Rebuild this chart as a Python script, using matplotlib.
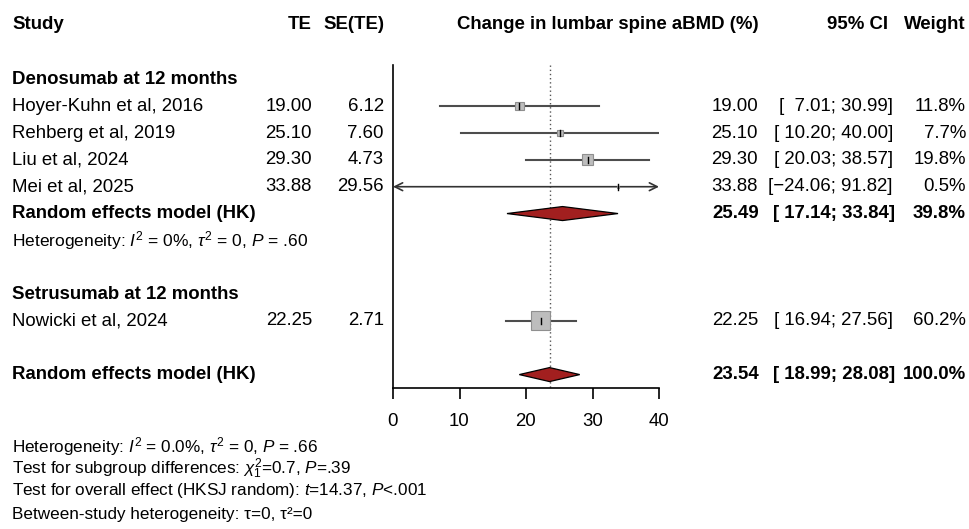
import matplotlib
matplotlib.use("Agg")
import matplotlib.pyplot as plt
from matplotlib.transforms import blended_transform_factory
import numpy as np

plt.rcParams['font.family'] = ['Liberation Sans', 'DejaVu Sans']
plt.rcParams['mathtext.fontset'] = 'custom'
plt.rcParams['mathtext.rm'] = 'Liberation Sans'
plt.rcParams['mathtext.it'] = 'Liberation Sans:italic'
plt.rcParams['mathtext.bf'] = 'Liberation Sans:bold'

# ---- data ----
studies = ["Hoyer-Kuhn et al, 2016", "Rehberg et al, 2019", "Liu et al, 2024",
           "Mei et al, 2025", "Nowicki et al, 2024"]
study_rows = [1, 2, 3, 4, 9]
te = [19.00, 25.10, 29.30, 33.88, 22.25]
se = [6.12, 7.60, 4.73, 29.56, 2.71]
ci_lo = [7.01, 10.20, 20.03, -24.06, 16.94]
ci_hi = [30.99, 40.00, 38.57, 91.82, 27.56]
weights = [11.8, 7.7, 19.8, 0.5, 60.2]

group_labels = ["Denosumab at 12 months", "Setrusumab at 12 months"]
group_rows = [0, 8]

pooled_labels = ["Random effects model (HK)", "Random effects model (HK)"]
pooled_rows = [5, 11]
pooled_est = [25.49, 23.54]
pooled_lo = [17.14, 18.99]
pooled_hi = [33.84, 28.08]
pooled_w = [39.8, 100.0]

xticks = [0, 10, 20, 30, 40]

W, H = 969, 529
fig = plt.figure(figsize=(W / 100, H / 100), dpi=100)

# forest axes: x 0..40 spans px 393..659, rows spaced ~26.85 px
ax_l, ax_r = 393, 659
ax_top, ax_bot = 23, 388
ax = fig.add_axes([ax_l / W, 1 - ax_bot / H, (ax_r - ax_l) / W, (ax_bot - ax_top) / H])
ax.set_xlim(0, 40)
ax.set_ylim(11.5, -2.1)
for s in ['top', 'right', 'left']:
    ax.spines[s].set_visible(False)
ax.spines['bottom'].set_linewidth(1.2)
ax.set_yticks([])
ax.set_xticks(xticks)
ax.tick_params(axis='x', length=8, width=1.2, pad=10, labelsize=13.4)

px_x = 40 / (ax_r - ax_l)      # data units per px (x)
px_y = 13.6 / (ax_bot - ax_top)  # rows per px (y)

# reference line at 0 and dotted pooled line
ax.plot([0, 0], [-0.55, 11.5], color='black', lw=1.2, clip_on=False)
ax.plot([pooled_est[1]] * 2, [-0.55, 11.5], color='#555555', lw=1.0,
        linestyle=(0, (1, 2)))

# studies
for r, est, lo, hi, w in zip(study_rows, te, ci_lo, ci_hi, weights):
    if lo < 0 or hi > 40:
        ax.annotate('', xy=(40, r), xytext=(0, r),
                    arrowprops=dict(arrowstyle='<->', color='#333333', lw=1.2,
                                    shrinkA=0, shrinkB=0, mutation_scale=14))
    else:
        ax.plot([lo, hi], [r, r], color='#4d4d4d', lw=1.5)
    side = 2.45 * np.sqrt(w)
    ax.add_patch(plt.Rectangle((est - side / 2 * px_x, r - side / 2 * px_y),
                               side * px_x, side * px_y,
                               facecolor='#BDBDBD', edgecolor='#8F8F8F', lw=0.8, zorder=3))
    ax.plot([est, est], [r - 3 * px_y, r + 3 * px_y], color='black', lw=1.0, zorder=4)

# diamonds
for r, est, lo, hi in zip(pooled_rows, pooled_est, pooled_lo, pooled_hi):
    h = 7 * px_y
    ax.fill([lo, est, hi, est], [r, r - h, r, r + h], facecolor='#A21F1F',
            edgecolor='black', lw=0.9, zorder=3)

# ---- text columns ----
tr = blended_transform_factory(fig.transFigure, ax.transData)
fs = 13.4
def col(x, r, s, ha='left', bold=False, size=fs):
    fig.text(x / W, r, s, transform=tr, ha=ha, va='center', fontsize=size,
             fontweight='bold' if bold else 'normal')

hdr = -2.05
col(12, hdr, "Study", bold=True)
col(312, hdr, "TE", ha='right', bold=True)
col(384, hdr, "SE(TE)", ha='right', bold=True)
col(608, hdr, "Change in lumbar spine aBMD (%)", ha='center', bold=True)
col(888, hdr, "95% CI", ha='right', bold=True)
col(966, hdr, "Weight", ha='right', bold=True)

for g, r in zip(group_labels, group_rows):
    col(12, r, g, bold=True)

def fmt_ci(lo, hi):
    return "[" + f"{lo:6.2f}".replace('-', '\u2212') + "; " + f"{hi:5.2f}" + "]"

for name, r, est, s, lo, hi, w in zip(studies, study_rows, te, se, ci_lo, ci_hi, weights):
    col(12, r, name)
    col(312, r, f"{est:.2f}", ha='right')
    col(384, r, f"{s:.2f}", ha='right')
    col(758, r, f"{est:.2f}", ha='right')
    col(893, r, fmt_ci(lo, hi), ha='right')
    col(966, r, f"{w:.1f}%", ha='right')

for name, r, est, lo, hi, w in zip(pooled_labels, pooled_rows, pooled_est, pooled_lo, pooled_hi, pooled_w):
    col(12, r, name, bold=True)
    col(759, r, f"{est:.2f}", ha='right', bold=True)
    col(895, r, fmt_ci(lo, hi), ha='right', bold=True)
    col(966, r, f"{w:.1f}%", ha='right', bold=True)

col(12, 6, r"Heterogeneity: $I^2$ = 0%, $\tau^2$ = 0, $P$ = .60", size=12.5)

# footer
foot = [r"Heterogeneity: $I^2$ = 0.0%, $\tau^2$ = 0, $P$ = .66",
        r"Test for subgroup differences: $\chi^2_1$=0.7, $P$=.39",
        r"Test for overall effect (HKSJ random): $t$=14.37, $P$<.001",
        "Between-study heterogeneity: \u03c4=0, \u03c4\u00b2=0"]
foot_y = [447, 469, 490, 514]
for s, py in zip(foot, foot_y):
    fig.text(12 / W, 1 - py / H, s, ha='left', va='center', fontsize=12.3)

fig.savefig("out.png", dpi=100)
